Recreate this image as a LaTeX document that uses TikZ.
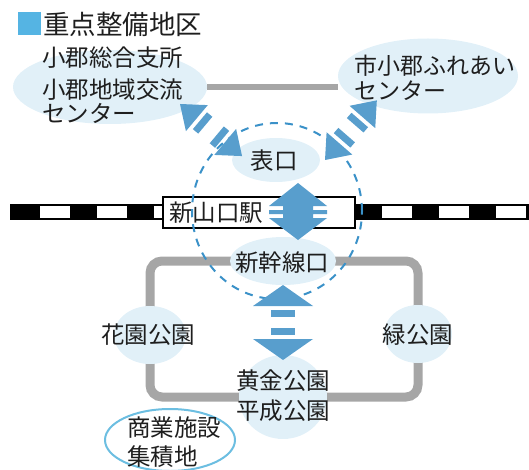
\documentclass[tikz,border=0pt]{standalone}
\usepackage{fontspec}
\setmainfont{Noto Sans CJK JP}
\usetikzlibrary{shapes.geometric,backgrounds}
\definecolor{bubfill}{HTML}{E1F0F8}
\definecolor{arrowblue}{HTML}{589ECD}
\definecolor{zoneblue}{HTML}{3A91C8}
\definecolor{legblue}{HTML}{55B4E3}
\definecolor{shopblue}{HTML}{6CBEE1}
\definecolor{linegray}{HTML}{A6A6A6}
\definecolor{txtc}{HTML}{1E1E1E}
\tikzset{
  bub/.style={ellipse, fill=bubfill, inner sep=0pt},
  lbl/.style={inner sep=0pt, text=txtc, font=\fontsize{23.5}{30}\selectfont, align=center},
  grayline/.style={draw=linegray, line width=9pt},
  pics/fatarrow/.style n args={4}{code={
    \fill[arrowblue] (0,0) -- (#2,#3) -- (#2,-#3) -- cycle;
    \fill[arrowblue] (#1,0) -- (#1-#2,#3) -- (#1-#2,-#3) -- cycle;
    \fill[arrowblue] (#2+4,#4) rectangle (#2+11,-#4);
    \fill[arrowblue] (#1-#2-11,#4) rectangle (#1-#2-4,-#4);
  }}
}
\begin{document}
\begin{tikzpicture}[x=1pt,y=-1pt]
\useasboundingbox (0,0) rectangle (529,470);
% railway
\fill[black] (10,204) rectangle (529,220);
\foreach \k in {0,...,8} \fill[white] ({40+57*\k},206) rectangle ({70+57*\k},218);
% bubbles
\node[bub, minimum width=194, minimum height=74] (b-left) at (110,87) {};
\node[bub, minimum width=180, minimum height=75] (b-right) at (428,76) {};
\node[bub, minimum width=88, minimum height=44] (b-omote) at (276,160) {};
\node[bub, minimum width=106, minimum height=48] (b-shin) at (283,261) {};
\node[bub, minimum width=72, minimum height=58] (b-hana) at (150,335) {};
\node[bub, minimum width=68, minimum height=58] (b-mido) at (418,334) {};
\node[bub, minimum width=88, minimum height=84] (b-kog) at (283,397) {};
% station
\node[draw=black, line width=1.2pt, fill=white, minimum width=192, minimum height=31, inner sep=0pt, text width=180, lbl, align=left] (station) at (259,212.5) {新山口駅};
% gray connections
\begin{scope}[on background layer]
\draw[grayline, rounded corners=12] (b-hana.center) |- (b-shin.center) -| (b-mido.center) |- (b-kog.center) -| (b-hana.center);
\draw[draw=linegray, line width=6pt] (b-left.east) -- (b-left.east -| b-right.west);
\end{scope}
% legend and texts
\node[fill=legblue, minimum size=23, inner sep=0pt] (legsq) at (29.5,24) {};
\node[lbl, font=\fontsize{26.5}{30}\selectfont, anchor=west] (title) at (43,24) {重点整備地区};
\node[lbl, anchor=west] (t-shisho) at (42,58) {小郡総合支所};
\node[lbl, anchor=west, align=left, font=\fontsize{23.5}{24}\selectfont] (t-left) at (42,101) {小郡地域交流\\センター};
\node[lbl, anchor=west, align=left, font=\fontsize{23}{25}\selectfont] (t-right) at (354,77.5) {市小郡ふれあい\\センター};
\node[lbl] (omote) at (274,161) {表口};
\node[lbl] (shin) at (282,263) {新幹線口};
\node[lbl] (hana) at (148,335) {花園公園};
\node[lbl] (mido) at (418,335) {緑公園};
\node[lbl] (kog) at (283,396) {黄金公園\\平成公園};
\node[ellipse, draw=shopblue, line width=2pt, fill=white, minimum width=130, minimum height=62, inner sep=0pt] (b-shop) at (170,440) {};
\node[lbl, align=left, font=\fontsize{23.5}{29}\selectfont] (shop) at (174,442) {商業施設\\集積地};
% dashed zone
\node[ellipse, draw=zoneblue, line width=2pt, dash pattern=on 8pt off 7pt, minimum width=170, minimum height=176, inner sep=0pt] (zone) at (277,211) {};
% arrows
\coordinate (la) at (180,104);
\pic[rotate=-40] at (la) {fatarrow={81}{22}{17}{11}};
\coordinate (ra) at (325,160);
\pic[rotate=49] at (ra) {fatarrow={79}{22}{17}{11}};
\coordinate (va) at (283,285);
\pic[rotate=-90] at (va) {fatarrow={75}{21}{30}{12}};
\fill[arrowblue] (298,183) -- (327,206) -- (313,206) -- (313,210) -- (327,210) -- (327,214) -- (313,214) -- (313,218) -- (327,218) -- (298,240) -- (269,218) -- (283,218) -- (283,214) -- (269,214) -- (269,210) -- (283,210) -- (283,206) -- (269,206) -- cycle;
\end{tikzpicture}
\end{document}
